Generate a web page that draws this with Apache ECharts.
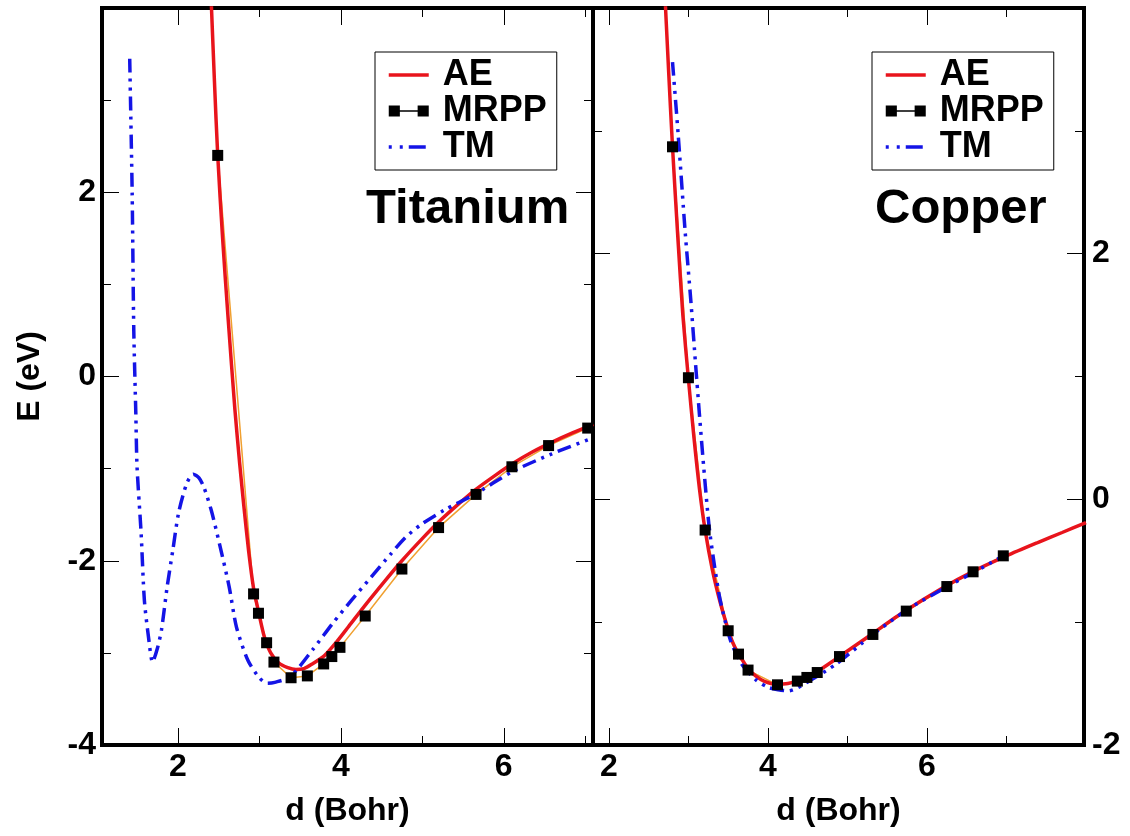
<!DOCTYPE html>
<html>
<head>
<meta charset="utf-8">
<title>Ti / Cu dimer curves</title>
<script src="https://cdn.jsdelivr.net/npm/echarts/dist/echarts.min.js"></script>
<style>
  html, body { margin: 0; padding: 0; background: #fff; }
  #chart { width: 1130px; height: 836px; }
</style>
</head>
<body>
<div id="chart"></div>
<script>
// d (Bohr), E (eV)
var tiAE = [
  [2.40, 4.3], [2.45, 3.2], [2.49, 2.40], [2.55, 1.50], [2.62, 0.60], [2.70, -0.35],
  [2.76, -0.95], [2.81, -1.40], [2.87, -1.90], [2.93, -2.30], [2.99, -2.55], [3.06, -2.82],
  [3.14, -3.00], [3.24, -3.11], [3.35, -3.16], [3.45, -3.18], [3.55, -3.17], [3.65, -3.12],
  [3.80, -3.03], [3.95, -2.88], [4.10, -2.71], [4.32, -2.46], [4.55, -2.21], [4.75, -2.00],
  [5.00, -1.76], [5.20, -1.58], [5.45, -1.38], [5.65, -1.23], [5.90, -1.07], [6.10, -0.95],
  [6.35, -0.82], [6.60, -0.71], [6.85, -0.61], [7.10, -0.52]
];
var tiMRPP = [
  [2.49, 2.40], [2.93, -2.36], [2.99, -2.57], [3.09, -2.89], [3.18, -3.10], [3.39, -3.27],
  [3.59, -3.25], [3.79, -3.12], [3.89, -3.04], [3.99, -2.94], [4.30, -2.60], [4.75, -2.09],
  [5.20, -1.64], [5.66, -1.28], [6.10, -0.98], [6.55, -0.75], [7.03, -0.56]
];
var tiTM = [
  [1.41, 3.45], [1.44, 2.00], [1.46, 0.50], [1.485, -0.40], [1.50, -0.98], [1.55, -1.70],
  [1.59, -2.43], [1.645, -2.86], [1.69, -3.10], [1.75, -2.95], [1.80, -2.75], [1.87, -2.28],
  [1.94, -1.88], [2.01, -1.48], [2.11, -1.16], [2.19, -1.06], [2.26, -1.10], [2.32, -1.20],
  [2.41, -1.45], [2.51, -1.81], [2.63, -2.28], [2.72, -2.72], [2.86, -3.08], [3.00, -3.27],
  [3.10, -3.33], [3.19, -3.32], [3.38, -3.26], [3.66, -2.96], [3.90, -2.68], [4.13, -2.43],
  [4.37, -2.18], [4.61, -1.93], [4.79, -1.75], [4.98, -1.61], [5.27, -1.45], [5.64, -1.28],
  [6.11, -1.03], [6.59, -0.84], [7.08, -0.67]
];
var cuAE = [
  [2.69, 4.3], [2.75, 3.50], [2.80, 2.87], [2.87, 2.10], [2.93, 1.50], [3.00, 0.98],
  [3.07, 0.50], [3.14, 0.08], [3.21, -0.25], [3.30, -0.57], [3.40, -0.84], [3.50, -1.06],
  [3.56, -1.17], [3.63, -1.26], [3.70, -1.33], [3.75, -1.38], [3.85, -1.44], [3.95, -1.48],
  [4.10, -1.505], [4.25, -1.50], [4.40, -1.47], [4.60, -1.41], [4.90, -1.28], [5.30, -1.10],
  [5.70, -0.92], [6.20, -0.72], [6.60, -0.58], [7.00, -0.46], [7.40, -0.35], [7.70, -0.27],
  [8.00, -0.19]
];
var cuMRPP = [
  [2.80, 2.87], [3.00, 0.99], [3.21, -0.25], [3.50, -1.07], [3.63, -1.26], [3.75, -1.39],
  [4.12, -1.51], [4.37, -1.48], [4.49, -1.45], [4.62, -1.41], [4.90, -1.28], [5.32, -1.10],
  [5.74, -0.91], [6.25, -0.71], [6.58, -0.59], [6.96, -0.46]
];
var cuTM = [
  [2.80, 3.56], [2.87, 2.98], [2.96, 2.17], [3.03, 1.62], [3.09, 1.10], [3.14, 0.68],
  [3.19, 0.28], [3.26, -0.22], [3.33, -0.55], [3.40, -0.82], [3.53, -1.15], [3.67, -1.34],
  [3.85, -1.47], [4.00, -1.53], [4.13, -1.55], [4.26, -1.56], [4.49, -1.49], [4.86, -1.34],
  [5.32, -1.10], [5.77, -0.89], [6.23, -0.72], [6.60, -0.59], [6.99, -0.45]
];

var xMajor = [2, 4, 6];
var xMinor = [3, 5, 7];
var tiYMajor = [-4, -2, 0, 2];
var tiYMinor = [-3, -1, 1, 3];
var cuYMajor = [-2, 0, 2];
var cuYMinor = [-1, 1, 3];

var FONT = "'Liberation Sans', Arial, Helvetica, sans-serif";
var RED = '#e8141c';
var BLUE = '#1414e6';
var ORANGE = '#f0a030';
var TM_DASH = [14, 6, 3, 6, 3, 6];

function tickAxis(grid, pos, min, max, vals, len, withLabels, name, nameGap) {
  var ax = {
    type: 'value',
    gridIndex: grid,
    position: pos,
    min: min,
    max: max,
    axisLine: { show: false, onZero: false },
    splitLine: { show: false },
    axisTick: {
      show: true,
      inside: true,
      length: len,
      customValues: vals,
      lineStyle: { color: '#000', width: 1 }
    },
    axisLabel: {
      show: withLabels,
      customValues: vals,
      margin: 6,
      color: '#000',
      fontSize: 32,
      fontWeight: 'bold',
      fontFamily: FONT
    }
  };
  if (name) {
    ax.name = name;
    ax.nameLocation = 'middle';
    ax.nameGap = nameGap;
    ax.nameTextStyle = { color: '#000', fontSize: 32, fontWeight: 'bold', fontFamily: FONT };
  }
  return ax;
}

var TI_X = [1.07, 7.095];
var CU_X = [1.8, 7.975];

var xAxes = [
  tickAxis(0, 'bottom', TI_X[0], TI_X[1], xMajor, 17, true, 'd (Bohr)', 50),
  tickAxis(0, 'bottom', TI_X[0], TI_X[1], xMinor, 9, false),
  tickAxis(0, 'top', TI_X[0], TI_X[1], xMajor, 17, false),
  tickAxis(0, 'top', TI_X[0], TI_X[1], xMinor, 9, false),
  tickAxis(1, 'bottom', CU_X[0], CU_X[1], xMajor, 17, true, 'd (Bohr)', 50),
  tickAxis(1, 'bottom', CU_X[0], CU_X[1], xMinor, 9, false),
  tickAxis(1, 'top', CU_X[0], CU_X[1], xMajor, 17, false),
  tickAxis(1, 'top', CU_X[0], CU_X[1], xMinor, 9, false)
];
var yAxes = [
  tickAxis(0, 'left', -4, 4, tiYMajor, 17, true, 'E (eV)', 56),
  tickAxis(0, 'left', -4, 4, tiYMinor, 9, false),
  tickAxis(0, 'right', -4, 4, tiYMajor, 17, false),
  tickAxis(0, 'right', -4, 4, tiYMinor, 9, false),
  tickAxis(1, 'right', -2, 4, cuYMajor, 17, true),
  tickAxis(1, 'right', -2, 4, cuYMinor, 9, false),
  tickAxis(1, 'left', -2, 4, cuYMajor, 17, false),
  tickAxis(1, 'left', -2, 4, cuYMinor, 9, false)
];
yAxes[4].axisLabel.margin = 8;

function panelSeries(xi, yi, ae, mrpp, tm) {
  return [
    {
      name: 'MRPP', type: 'scatter', xAxisIndex: xi, yAxisIndex: yi, z: 6,
      symbol: 'rect', symbolSize: 11, itemStyle: { color: '#000', opacity: 1 },
      data: mrpp, silent: true
    },
    {
      name: 'AE', type: 'line', xAxisIndex: xi, yAxisIndex: yi, z: 3,
      smooth: 0.25, showSymbol: false, symbol: 'none',
      lineStyle: { color: RED, width: 3.5 }, itemStyle: { color: RED },
      data: ae, silent: true
    },
    {
      name: 'MRPP', type: 'line', xAxisIndex: xi, yAxisIndex: yi, z: 2,
      showSymbol: false, symbol: 'none',
      lineStyle: { color: ORANGE, width: 1.5 }, itemStyle: { color: ORANGE },
      data: mrpp, silent: true
    },
    {
      name: 'TM', type: 'line', xAxisIndex: xi, yAxisIndex: yi, z: 4,
      smooth: 0.25, showSymbol: false, symbol: 'none',
      lineStyle: { color: BLUE, width: 3.5, type: TM_DASH, cap: 'butt' },
      itemStyle: { color: BLUE },
      data: tm, silent: true
    }
  ];
}

var legendItems = [
  { name: 'AE', itemStyle: { color: 'rgba(0,0,0,0)', borderWidth: 0 },
    lineStyle: { color: RED, width: 3.5 } },
  { name: 'MRPP', icon: 'path://M0 0H5V5H0Z M5 2.2H13V2.8H5Z M13 0H18V5H13Z',
    itemStyle: { color: '#000', opacity: 1 } },
  { name: 'TM', itemStyle: { color: 'rgba(0,0,0,0)', borderWidth: 0 },
    lineStyle: { color: BLUE, width: 3.5, type: [3, 8, 3, 6, 14, 0] } }
];
function makeLegend(left) {
  return {
    data: legendItems,
    orient: 'vertical',
    left: left,
    top: 52,
    padding: [5, 10, 5, 12],
    itemGap: 0,
    itemWidth: 40,
    itemHeight: 12,
    selectedMode: false,
    borderColor: '#000',
    borderWidth: 1,
    backgroundColor: '#fff',
    textStyle: {
      color: '#000', fontSize: 36, fontWeight: 'bold', fontFamily: FONT,
      lineHeight: 36, padding: [0, 0, 0, 9]
    }
  };
}

var chart = echarts.init(document.getElementById('chart'));
chart.setOption({
  backgroundColor: '#fff',
  animation: false,
  title: [
    { text: 'Titanium', left: 361, top: 180,
      textStyle: { color: '#000', fontSize: 49, fontWeight: 'bold', fontFamily: FONT } },
    { text: 'Copper', left: 870, top: 180,
      textStyle: { color: '#000', fontSize: 49, fontWeight: 'bold', fontFamily: FONT } }
  ],
  legend: [makeLegend(375), makeLegend(872)],
  grid: [
    { left: 102, top: 8, width: 491, height: 737, show: true, borderColor: '#000', borderWidth: 4, containLabel: false },
    { left: 593, top: 8, width: 491, height: 737, show: true, borderColor: '#000', borderWidth: 4, containLabel: false }
  ],
  xAxis: xAxes,
  yAxis: yAxes,
  series: [].concat(
    panelSeries(0, 0, tiAE, tiMRPP, tiTM),
    panelSeries(4, 4, cuAE, cuMRPP, cuTM)
  )
});
</script>
</body>
</html>
